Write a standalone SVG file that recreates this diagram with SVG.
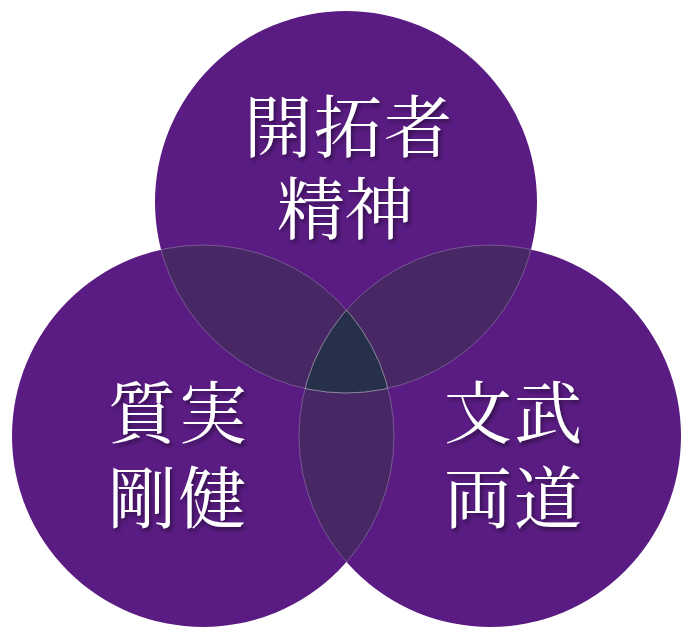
<svg xmlns="http://www.w3.org/2000/svg" width="683" height="629" viewBox="0 0 683 629">
<defs>
<style>
.base{fill:#5a1c83}
.pair{fill:#472865}
.triple{fill:#27304a}
.edge{fill:none;stroke:#ffffff;stroke-opacity:0.3;stroke-width:0.8}
.lbl{font-family:"Noto Serif CJK JP","Noto Sans CJK JP",serif;font-size:68px;fill:#ffffff;filter:url(#sh)}
</style>
<filter id="sh" x="-20%" y="-20%" width="140%" height="140%">
<feDropShadow dx="2" dy="3" stdDeviation="2" flood-color="#000000" flood-opacity="0.45"/>
</filter>
<clipPath id="cT"><circle cx="346" cy="202" r="191"/></clipPath>
<clipPath id="cL"><circle cx="203" cy="436" r="191"/></clipPath>
<clipPath id="cR"><circle cx="490" cy="436" r="191"/></clipPath>
</defs>
<rect width="683" height="629" fill="#ffffff"/>
<g id="circle-top"><circle class="base" cx="346" cy="202" r="191"/></g>
<g id="circle-left"><circle class="base" cx="203" cy="436" r="191"/></g>
<g id="circle-right"><circle class="base" cx="490" cy="436" r="191"/></g>
<g id="overlaps">
<g clip-path="url(#cT)"><circle class="pair" cx="203" cy="436" r="191"/><circle class="pair" cx="490" cy="436" r="191"/></g>
<g clip-path="url(#cL)"><circle class="pair" cx="490" cy="436" r="191"/></g>
<g clip-path="url(#cT)"><g clip-path="url(#cL)"><circle class="triple" cx="490" cy="436" r="191"/></g></g>
</g>
<g id="edges">
<g clip-path="url(#cL)"><circle class="edge" cx="346" cy="202" r="191"/><circle class="edge" cx="490" cy="436" r="191"/></g>
<g clip-path="url(#cR)"><circle class="edge" cx="346" cy="202" r="191"/><circle class="edge" cx="203" cy="436" r="191"/></g>
<g clip-path="url(#cT)"><circle class="edge" cx="203" cy="436" r="191"/><circle class="edge" cx="490" cy="436" r="191"/></g>
</g>
<g id="label-top">
<text class="lbl" x="244 314 384" y="152">開拓者</text>
<text class="lbl" x="277 345" y="234">精神</text>
</g>
<g id="label-left">
<text class="lbl" x="108 179" y="438">質実</text>
<text class="lbl" x="108 178" y="523">剛健</text>
</g>
<g id="label-right">
<text class="lbl" x="444 514" y="438">文武</text>
<text class="lbl" x="444 514" y="523">両道</text>
</g>
</svg>
